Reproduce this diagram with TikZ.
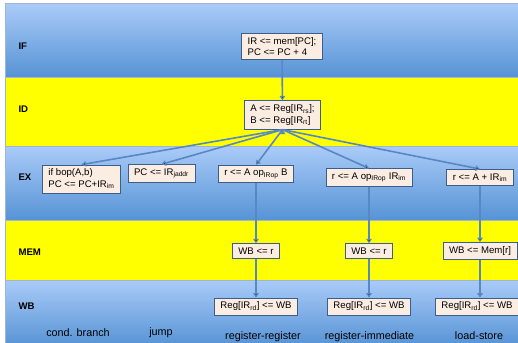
\documentclass[tikz,border=0pt]{standalone}
\usepackage{fontspec}
\setmainfont{Liberation Sans}
\usetikzlibrary{arrows.meta}
\definecolor{bandtop}{RGB}{170,203,248}
\definecolor{bandbot}{RGB}{86,147,213}
\definecolor{bandline}{RGB}{160,182,212}
\definecolor{yelband}{RGB}{255,255,0}
\definecolor{boxfill}{RGB}{252,237,227}
\definecolor{boxline}{RGB}{60,94,138}
\definecolor{flowcol}{RGB}{88,136,196}
\begin{document}
\begin{tikzpicture}[x=1pt,y=-1pt,
                    font=\fontsize{9.6}{11.5}\selectfont,
                    blue band/.style={top color=bandtop,bottom color=bandbot,draw=bandline,line width=0.6pt},
                    yellow band/.style={fill=yelband,draw=bandline,line width=0.6pt},
                    stage/.style={anchor=west,font=\fontsize{9.6}{11.5}\selectfont\bfseries},
                    op node/.style={draw=boxline,fill=boxfill,line width=0.8pt,align=left,inner xsep=6pt,inner ysep=4pt},
                    flow/.style={draw=flowcol,line width=1.6pt,-{Triangle[width=5.5pt,length=4.5pt]}},
                    kind/.style={font=\fontsize{10.8}{12}\selectfont}]
  \useasboundingbox (0,0) rectangle (518,342);
  % stage bands
  \path[blue band]   (5,3.5) rectangle (520,77);
  \path[yellow band] (5,77)  rectangle (520,146);
  \path[blue band]   (5,146) rectangle (520,220);
  \path[yellow band] (5,220) rectangle (520,280);
  \path[blue band]   (5,280) rectangle (520,346);
  \node[stage] (IF)  at (15,46)  {IF};
  \node[stage] (ID)  at (15,109) {ID};
  \node[stage] (EX)  at (15,177) {EX};
  \node[stage] (MEM) at (15,252) {MEM};
  \node[stage] (WB)  at (15,306) {WB};
  % operations
  \node[op node] (fetch)  at (282,46.5)  {IR <= mem[PC];\\PC <= PC + 4};
  \node[op node] (decode) at (282.5,115) {A <= Reg[IR\textsubscript{rs}];\\B <= Reg[IR\textsubscript{rt}]};
  \node[op node] (br)   at (81.5,179)  {if bop(A,b)\\PC <= PC+IR\textsubscript{im}};
  \node[op node] (jmp)  at (161.5,173.5) {PC <= IR\textsubscript{jaddr}};
  \node[op node] (rrEX) at (256,174)   {r <= A op\textsubscript{IRop} B};
  \node[op node] (riEX) at (369,177.5) {r <= A op\textsubscript{IRop} IR\textsubscript{im}};
  \node[op node] (lsEX) at (480,177.5) {r <= A + IR\textsubscript{im}};
  \node[op node] (rrMEM) at (256,251)   {WB <= r};
  \node[op node] (riMEM) at (369,251)   {WB <= r};
  \node[op node] (lsMEM) at (480,251) {WB <= Mem[r]};
  \node[op node] (rrWB) at (256,306.5) {Reg[IR\textsubscript{rd}] <= WB};
  \node[op node] (riWB) at (369,306.5) {Reg[IR\textsubscript{rd}] <= WB};
  \node[op node] (lsWB) at (477,306.5) {Reg[IR\textsubscript{rd}] <= WB};
  \coordinate (lsOut) at (lsMEM.south);
  \coordinate (lsIn) at (lsWB.north -| lsOut); % arrow end on the WB box
  % instruction kinds
  \node[kind] (L1) at (78,333)  {cond. branch};
  \node[kind] (L2) at (161,333) {jump};
  \node[kind] (L3) at (263,337) {register-register};
  \node[kind] (L4) at (369.5,337) {register-immediate};
  \node[kind] (L5) at (479,336) {load-store};
  \path[flow]%
    (fetch) edge (decode)
    (decode.south) edge (br.north)
    (decode.south) edge (jmp.north)
    (decode.south) edge (rrEX.north)
    (decode.south) edge (riEX.north)
    (decode.south) edge (lsEX.north)
    (rrEX) edge (rrMEM)  (rrMEM) edge (rrWB)
    (riEX) edge (riMEM)  (riMEM) edge (riWB)
    (lsEX) edge (lsMEM);
  \draw[flow] (lsOut) -- (lsIn);
\end{tikzpicture}
\end{document}
